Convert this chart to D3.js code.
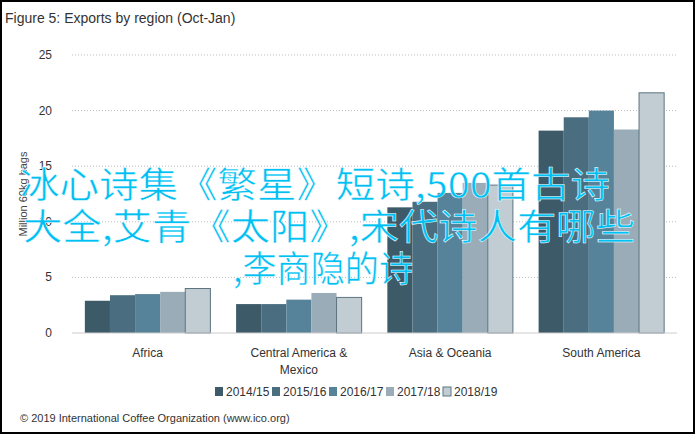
<!DOCTYPE html><html><head><meta charset="utf-8"><script src="https://cdn.jsdelivr.net/npm/d3@7"></script>
<style>body{margin:0;background:#fff}svg{display:block}</style></head><body><script>
const categories=[["Africa"],["Central America &","Mexico"],["Asia & Oceania"],["South America"]];
const seriesNames=["2014/15","2015/16","2016/17","2017/18","2018/19"];
const values=[[2.9,3.4,3.5,3.7,4.0],[2.6,2.6,3.0,3.6,3.2],[11.3,11.8,12.6,13.5,13.3],[18.2,19.4,20.0,18.3,21.6]];
const yTicks=[0,5,10,15,20,25];
const colors=["#3c5a68","#4a6e80","#57839a","#99acb7","#c1cdd3"];
const W=695,H=434;
const svg=d3.select("body").append("svg").attr("width",W).attr("height",H);
svg.append("rect").attr("x",1).attr("y",1).attr("width",W-2).attr("height",H-2).attr("fill","#fff").attr("stroke","#000").attr("stroke-width",2);
const font="Liberation Sans Narrow, Liberation Sans, sans-serif";
svg.append("text").attr("x",5).attr("y",23).text("Figure 5: Exports by region (Oct-Jan)").attr("font-family",font).attr("font-size",14).attr("fill","#333");
const x=d3.scaleBand().domain(d3.range(4)).range([72,677]).paddingInner(0.17).paddingOuter(0.085);
const y=d3.scaleLinear().domain([0,25]).range([333,55]);
const g=svg.append("g");
yTicks.forEach(t=>{ if(t>0) g.append("line").attr("x1",72).attr("x2",677).attr("y1",y(t)).attr("y2",y(t)).attr("stroke","#bbb").attr("stroke-dasharray","1,2");
 g.append("text").attr("x",52).attr("y",y(t)+4).attr("text-anchor","end").text(t).attr("font-family",font).attr("font-size",12).attr("fill","#333");});
const xs=d3.scaleBand().domain(d3.range(5)).range([0,x.bandwidth()]);
values.forEach((vs,i)=>vs.forEach((v,j)=>{
 g.append("rect").attr("x",x(i)+xs(j)).attr("y",y(v)).attr("width",xs.bandwidth()).attr("height",y(0)-y(v)).attr("fill",colors[j]).attr("stroke",j==4?"#5d7480":"none").attr("stroke-width",1);
}));
g.append("line").attr("x1",72).attr("x2",677).attr("y1",333).attr("y2",333).attr("stroke","#ccc");
categories.forEach((c,i)=>c.forEach((l,k)=>g.append("text").attr("x",x(i)+x.bandwidth()/2).attr("y",357+k*17).attr("text-anchor","middle").text(l).attr("font-family",font).attr("font-size",12).attr("fill","#333")));
svg.append("text").attr("transform","translate(27,194) rotate(-90)").attr("text-anchor","middle").text("Million 60kg bags").attr("font-family",font).attr("font-size",11).attr("fill","#444");
const lg=svg.append("g");
seriesNames.forEach((s,j)=>{const lx=215+j*57;
 lg.append("rect").attr("x",lx).attr("y",387).attr("width",8).attr("height",9).attr("fill",colors[j]).attr("stroke",j==4?"#5d7480":"none");
 lg.append("text").attr("x",lx+11).attr("y",396).text(s).attr("font-family",font).attr("font-size",12).attr("fill","#333");});
svg.append("text").attr("x",20).attr("y",422).text("© 2019 International Coffee Organization (www.ico.org)").attr("font-family",font).attr("font-size",11).attr("fill","#333");
const lines=[["冰心诗集《繁星》短诗,500首古诗",20,198,590],["大全,艾青《太阳》,宋代诗人有哪些",23,240,612],[",李商隐的诗",233,282,180]];
lines.forEach(([t,lx,ly,tl])=>svg.append("text").attr("x",lx).attr("y",ly).text(t).attr("font-family","Noto Sans CJK SC").attr("font-size",36).attr("textLength",tl).attr("lengthAdjust","spacingAndGlyphs").attr("fill","#00bff3").attr("stroke","#fff").attr("stroke-width",0.5));
</script></body></html>
